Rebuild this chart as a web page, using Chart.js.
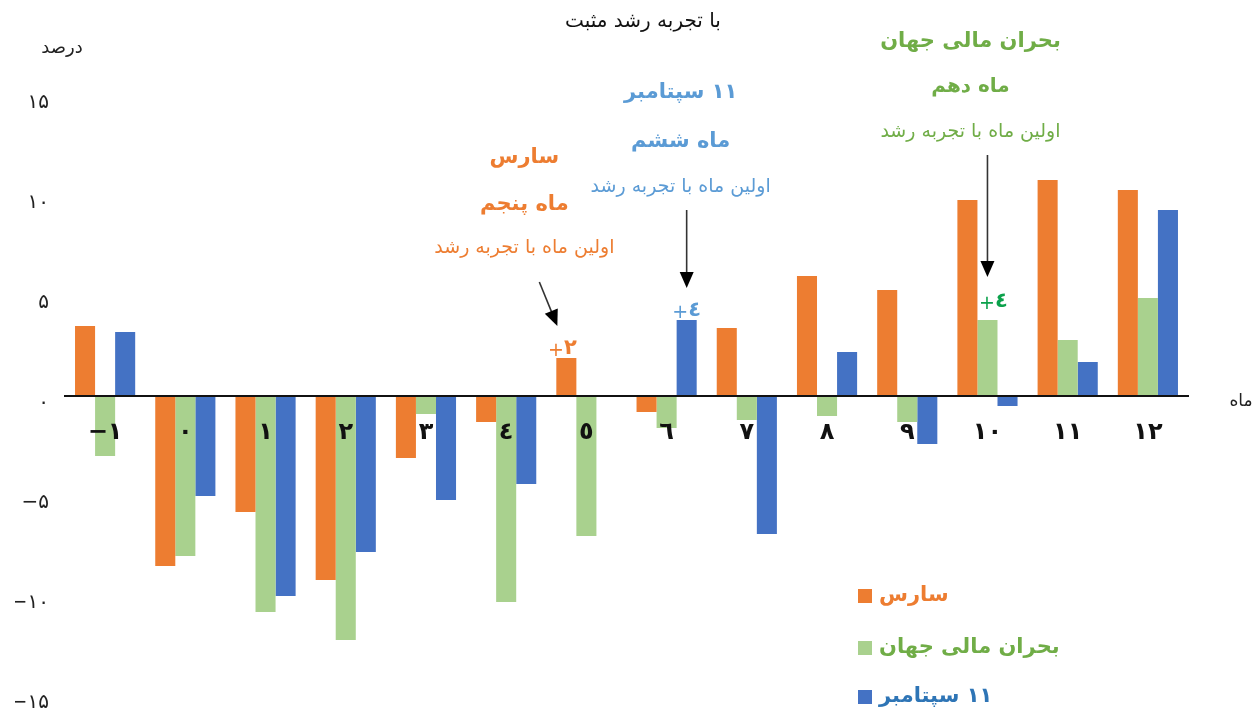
<!DOCTYPE html>
<html>
<head>
<meta charset="utf-8">
<script src="https://cdn.jsdelivr.net/npm/chart.js@4.4.0/dist/chart.umd.min.js"></script>
<style>
html,body{margin:0;padding:0;background:#fff;}
#wrap{width:1257px;height:714px;}
</style>
</head>
<body>
<div id="wrap"><canvas id="c" width="1257" height="714"></canvas></div>
<script>
// ---- data ----
const categories = ['−١','٠','١','٢','٣','٤','٥','٦','٧','٨','٩','١٠','١١','١٢'];
const sarsValues   = [3.5, -8.5, -5.8, -9.2, -3.1, -1.3, 1.9, -0.8, 3.4, 6.0, 5.3, 9.8, 10.8, 10.3];
const crisisValues = [-3.0, -8.0, -10.8, -12.2, -0.9, -10.3, -7.0, -1.6, -1.2, -1.0, -1.3, 3.8, 2.8, 4.9];
const sept11Values = [3.2, -5.0, -10.0, -7.8, -5.2, -4.4, 0, 3.8, -6.9, 2.2, -2.4, -0.5, 1.7, 9.3];
// series names: [number part, word part] (RTL: number is read first, sits on the right)
const seriesNames = [['', 'سارس'], ['', 'بحران مالی جهان'], ['۱۱', 'سپتامبر']];
const yTickValues = [15, 10, 5, 0, -5, -10, -15];
const yTickLabels = ['۱۵', '۱۰', '۵', '٠', '−۵', '−۱۰', '−۱۵'];

const FONT = "'DejaVu Sans', sans-serif";
const colors = ['#ED7D31', '#A9D18E', '#4472C4'];
const legendTextColors = ['#ED7D31', '#70AD47', '#2E75B6'];

const annotations = [
  { ds: 0, idx: 6, color: '#ED7D31', lines: [['', 'سارس'], ['', 'ماه پنجم'], ['', 'اولین ماه با تجربه رشد']],
    ys: [158, 205, 248], dx: -42, sizes: [21, 21, 19], label: '٢', labelColor: '#ED7D31', ldx: -4, ldy: -9,
    arrow: [-27, 282, -9, -32] },
  { ds: 2, idx: 7, color: '#5B9BD5', lines: [['۱۱', 'سپتامبر'], ['', 'ماه ششم'], ['', 'اولین ماه با تجربه رشد']],
    ys: [93, 142, 187], dx: -6, sizes: [21, 21, 19], label: '٤', labelColor: '#5B9BD5', ldx: 0, ldy: -9,
    arrow: [0, 210, 0, -32] },
  { ds: 1, idx: 11, color: '#70AD47', lines: [['', 'بحران مالی جهان'], ['', 'ماه دهم'], ['', 'اولین ماه با تجربه رشد']],
    ys: [42, 87, 132], dx: -17, sizes: [21, 20, 19], label: '٤', labelColor: '#0BA14B', ldx: 6, ldy: -18,
    arrow: [0, 155, 0, -43] }
];

// draws "number word" right-to-left: word visually on the left, number on the right
function drawPair(ctx, pair, x, y, align) {
  const num = pair[0], word = pair[1];
  const gap = num ? ctx.measureText(' ').width : 0;
  const wn = num ? ctx.measureText(num).width : 0;
  const ww = ctx.measureText(word).width;
  const total = wn + gap + ww;
  const left = align === 'center' ? x - total / 2 : x;
  ctx.textAlign = 'left';
  ctx.fillText(word, left, y);
  if (num) ctx.fillText(num, left + ww + gap, y);
}

const textPlugin = {
  id: 'textPlugin',
  afterDraw(chart) {
    const ctx = chart.ctx;
    ctx.save();
    ctx.textAlign = 'center';
    ctx.textBaseline = 'middle';
    // title
    ctx.fillStyle = '#111';
    ctx.font = '20px ' + FONT;
    ctx.fillText('با تجربه رشد مثبت', 643, 22);
    ctx.font = '18px ' + FONT;
    ctx.fillStyle = '#222';
    ctx.fillText('درصد', 62, 48);
    ctx.font = '17px ' + FONT;
    ctx.fillText('ماه', 1241, 402);

    // annotations
    annotations.forEach(a => {
      const bar = chart.getDatasetMeta(a.ds).data[a.idx];
      const bx = bar.x, by = bar.y;
      const cx = bx + a.dx;
      ctx.fillStyle = a.color;
      ctx.font = 'bold ' + a.sizes[0] + 'px ' + FONT;
      drawPair(ctx, a.lines[0], cx, a.ys[0], 'center');
      ctx.font = 'bold ' + a.sizes[1] + 'px ' + FONT;
      drawPair(ctx, a.lines[1], cx, a.ys[1], 'center');
      ctx.font = a.sizes[2] + 'px ' + FONT;
      drawPair(ctx, a.lines[2], cx, a.ys[2], 'center');
      // value label: thin plus followed by bold digit
      ctx.fillStyle = a.labelColor;
      ctx.font = '19px ' + FONT;
      const wp = ctx.measureText('+').width;
      ctx.font = 'bold 21px ' + FONT;
      const wd = ctx.measureText(a.label).width;
      const lx = bx + a.ldx - (wp + wd) / 2, ly = by + a.ldy;
      ctx.textAlign = 'left';
      ctx.font = '19px ' + FONT;
      ctx.fillText('+', lx, ly + 2);
      ctx.font = 'bold 21px ' + FONT;
      ctx.fillText(a.label, lx + wp, ly);
      // arrow
      const x1 = bx + a.arrow[0], y1 = a.arrow[1];
      const x2 = bx + a.arrow[2], y2 = by + a.arrow[3];
      const ang = Math.atan2(y2 - y1, x2 - x1);
      const hl = 16, hw = 7;
      ctx.strokeStyle = '#333';
      ctx.lineWidth = 1.6;
      ctx.beginPath();
      ctx.moveTo(x1, y1);
      ctx.lineTo(x2 - Math.cos(ang) * hl * 0.8, y2 - Math.sin(ang) * hl * 0.8);
      ctx.stroke();
      ctx.fillStyle = '#000';
      ctx.beginPath();
      ctx.moveTo(x2, y2);
      ctx.lineTo(x2 - Math.cos(ang) * hl + Math.sin(ang) * hw, y2 - Math.sin(ang) * hl - Math.cos(ang) * hw);
      ctx.lineTo(x2 - Math.cos(ang) * hl - Math.sin(ang) * hw, y2 - Math.sin(ang) * hl + Math.cos(ang) * hw);
      ctx.closePath();
      ctx.fill();
    });

    // legend
    const legY = [596, 648, 697];
    seriesNames.forEach((n, i) => {
      ctx.fillStyle = colors[i];
      ctx.fillRect(858, legY[i] - 7, 14, 14);
      ctx.fillStyle = legendTextColors[i];
      ctx.font = 'bold 21px ' + FONT;
      drawPair(ctx, n, 879, legY[i], 'left');
    });
    ctx.restore();
  }
};

new Chart(document.getElementById('c'), {
  type: 'bar',
  data: {
    labels: categories,
    datasets: [
      { label: seriesNames[0].join(' ').trim(), data: sarsValues, backgroundColor: colors[0] },
      { label: seriesNames[1].join(' ').trim(), data: crisisValues, backgroundColor: colors[1] },
      { label: seriesNames[2].join(' ').trim(), data: sept11Values, backgroundColor: colors[2] }
    ]
  },
  options: {
    responsive: false,
    animation: false,
    categoryPercentage: 0.75,
    barPercentage: 1.0,
    layout: { padding: { left: 15, right: 69, top: 96, bottom: 18 } },
    plugins: { legend: { display: false }, tooltip: { enabled: false } },
    scales: {
      x: {
        position: { y: 0 },
        grid: { display: false, drawTicks: false },
        border: { display: true, color: '#111', width: 2, z: 2 },
        ticks: { z: 1, color: '#111', font: { family: FONT, size: 24, weight: 'bold' }, padding: 22, maxRotation: 0, autoSkip: false }
      },
      y: {
        min: -15, max: 15,
        afterFit: (s) => { s.width = 50; s.paddingTop = 0; s.paddingBottom = 0; },
        afterBuildTicks: (s) => { s.ticks = yTickValues.map(v => ({ value: v })); },
        grid: { display: false, drawTicks: false },
        border: { display: false },
        ticks: {
          color: '#222', padding: 16, labelOffset: 7,
          font: { family: FONT, size: 20 },
          callback: (v) => { const i = yTickValues.indexOf(v); return i >= 0 ? yTickLabels[i] : ''; }
        }
      }
    }
  },
  plugins: [textPlugin]
});
</script>
</body>
</html>
